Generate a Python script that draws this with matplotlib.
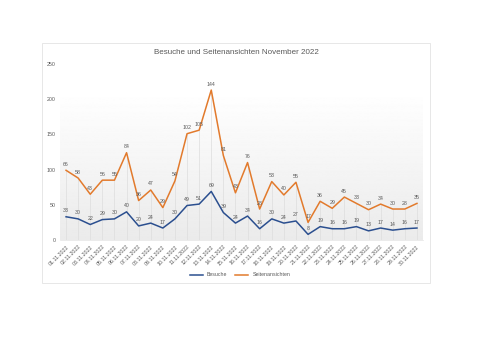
import numpy as np
import matplotlib
matplotlib.use("Agg")
import matplotlib.pyplot as plt
from matplotlib.patches import Rectangle
from matplotlib.lines import Line2D

days = [f"{d:02d}.11.2022" for d in range(1, 31)]
besuche = [33, 30, 22, 29, 30, 40, 20, 24, 17, 30, 49, 51, 69, 39, 24,
           34, 16, 30, 24, 27, 8, 19, 16, 16, 19, 13, 17, 14, 16, 17]
seitenansichten = [66, 58, 43, 56, 55, 84, 36, 47, 29, 54, 102, 105, 144, 81, 43,
                   76, 28, 53, 40, 55, 17, 36, 29, 45, 33, 30, 34, 30, 28, 35]

blue = "#2B4F8F"
orange = "#E27A2C"
grey = "#595959"
plt.rcParams['font.family'] = ['Liberation Sans', 'DejaVu Sans']

fig = plt.figure(figsize=(5, 3.53), dpi=100)
fig.patch.set_facecolor("white")
# chart card border
fig.patches.append(Rectangle((42/500, 1-283/353), 388/500, 240/353, transform=fig.transFigure,
                             fill=False, edgecolor="#E3E3E3", linewidth=0.6))

ax = fig.add_axes([60/500, 1-240/353, 363/500, 176/353])
x = np.arange(len(days))
stack = np.array(besuche) + np.array(seitenansichten)

# gradient background of plot area
grad = np.linspace(0.92, 1.0, 256).reshape(-1, 1)
ax.imshow(grad, extent=[0, 1, 0, 0.85], transform=ax.transAxes, cmap="gray",
          vmin=0, vmax=1, aspect="auto", origin="lower", zorder=0)

ax.vlines(x, 0, stack, color="#DDDDDD", linewidth=0.5, zorder=1)
ax.plot(x, besuche, color=blue, linewidth=1.1, zorder=3)
ax.plot(x, stack, color=orange, linewidth=1.1, zorder=3)

for xi, b, s, t in zip(x, besuche, seitenansichten, stack):
    ax.text(xi, b + 5, str(b), ha="center", va="bottom", fontsize=3.8, color=grey)
    ax.text(xi, t + 5, str(s), ha="center", va="bottom", fontsize=3.8, color=grey)

ax.set_xlim(-0.5, len(days) - 0.5)
ax.set_ylim(0, 250)
ax.set_yticks([0, 50, 100, 150, 200, 250])
ax.set_xticks(x)
ax.set_xticklabels(days, rotation=45, ha="right", rotation_mode="anchor")
ax.tick_params(axis="both", length=0, labelsize=3.8, colors=grey, pad=3)
for sp in ["top", "right", "left"]:
    ax.spines[sp].set_visible(False)
ax.spines["bottom"].set_color("#E3E3E3")
ax.spines["bottom"].set_linewidth(0.5)

fig.text(236/500, 1-52/353, "Besuche und Seitenansichten November 2022", ha="center",
         va="center", fontsize=5.8, color=grey)

handles = [Line2D([], [], color=blue, linewidth=1.1), Line2D([], [], color=orange, linewidth=1.1)]
fig.legend(handles, ["Besuche", "Seitenansichten"], loc="center", bbox_to_anchor=(240/500, 1-275/353),
           ncol=2, frameon=False, fontsize=3.8, handlelength=2.5, columnspacing=1.5,
           labelcolor=grey)

fig.savefig("out.png", dpi=100)
